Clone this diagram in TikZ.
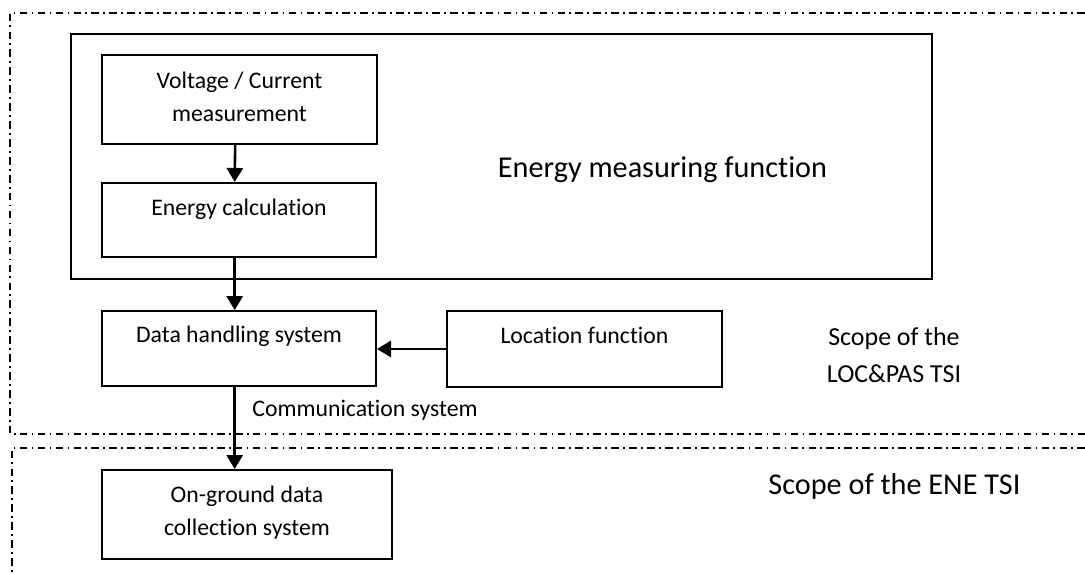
\documentclass[tikz,border=0pt]{standalone}
\usepackage{fontspec}
\setmainfont{Carlito}[Ligatures=NoCommon]
\usetikzlibrary{arrows.meta,positioning}

\tikzset{
  blok/.style={draw, line width=0.9pt, inner sep=0pt},
  bloktext/.style={align=center, inner sep=0pt, anchor=base, font=\fontsize{11}{15.3}\selectfont},
  pijl/.style={line width=1.2pt, -{Triangle[length=6.5pt,width=7.5pt]}},
  scopeline/.style={line width=0.7pt, dash pattern=on 3.5pt off 2pt on 0.8pt off 2pt}
}

\begin{document}
\begin{tikzpicture}[x=0.463pt, y=-0.463pt]
    \useasboundingbox (0,0) rectangle (1085,574);

    % Scope borders
    \draw[scopeline] (1085,13) -- (10,13) -- (10,434) -- (1085,434);
    \draw[scopeline] (1085,448) -- (12,448) -- (12,574);

    % Energy measuring function
    \node[blok, minimum width=398.6pt, minimum height=113.4pt] (emf) at (501.5,156.5) {};
    \node[anchor=base, inner sep=0pt, font=\fontsize{14}{17}\selectfont] (emf-t) at (662.5,177) {Energy measuring function};

    % Boxes
    \node[blok, minimum width=127.3pt, minimum height=41.2pt] (volt) at (239.5,99.5) {};
    \node[blok, minimum width=126.9pt, minimum height=34.3pt] (calc) at (239,220) {};
    \node[blok, minimum width=126.9pt, minimum height=34.7pt] (data) at (239,348.5) {};
    \node[blok, minimum width=127.3pt, minimum height=35.2pt] (loc) at (584.5,349) {};
    \node[blok, minimum width=134.3pt, minimum height=41.2pt] (ground) at (247,514.5) {};

    % Box texts (base = last line)
    \node[bloktext] (volt-t) at ([yshift=-31.3pt]volt.north) {Voltage / Current\\measurement};
    \node[bloktext] (calc-t) at ([yshift=-15.3pt]calc.north) {Energy calculation};
    \node[bloktext] (data-t) at ([yshift=-15pt]data.north) {Data handling system};
    \node[bloktext] (loc-t) at ([yshift=-15.3pt]loc.north) {Location function};
    \node[bloktext] (ground-t) at ([yshift=-31pt]ground.north) {On-ground data\\collection system};

    % Arrows
    \draw[pijl] ([xshift=-2pt]volt.south) -- ([xshift=-2pt]calc.north);
    \draw[pijl] ([xshift=-2pt]calc.south) -- ([xshift=-2pt]data.north);
    \draw[pijl] (loc.west) -- (loc.west -| data.east);
    \draw[pijl] ([xshift=-2pt]data.south) -- ([xshift=-2pt]data.south |- ground.north);

    % Labels
    \node[anchor=base west, inner sep=0pt, font=\fontsize{11}{13}\selectfont] (comm) at (252,416) {Communication system};
    \node[anchor=base, inner sep=0pt, align=center, font=\fontsize{12}{17}\selectfont] (scope-lp) at (894,382) {Scope of the\\LOC\&PAS TSI};
    \node[anchor=base, inner sep=0pt, font=\fontsize{14}{17}\selectfont] (scope-ene) at (894.5,494) {Scope of the ENE TSI};
\end{tikzpicture}
\end{document}
